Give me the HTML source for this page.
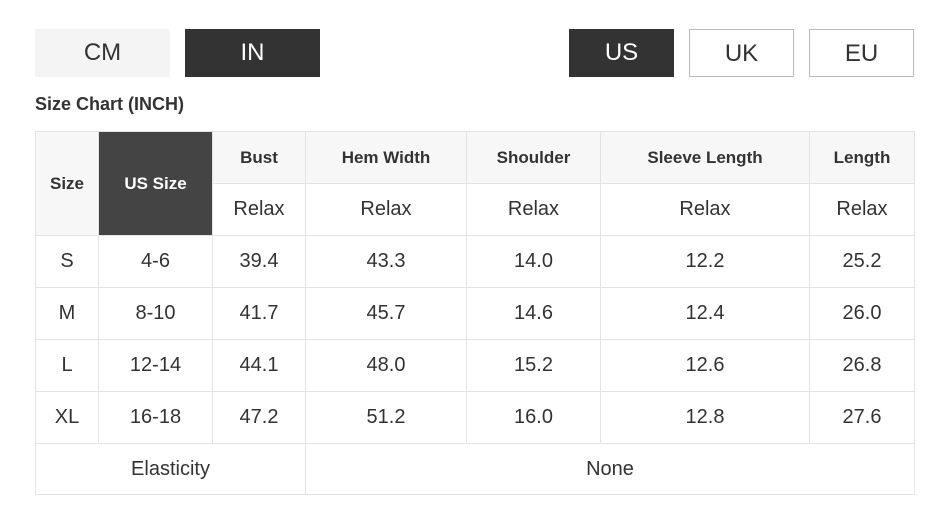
<!DOCTYPE html>
<html><head><style>
body{margin:0;background:#fff;font-family:"Liberation Sans",Arial,sans-serif;color:#333;width:945px;height:518px;position:relative;overflow:hidden}
.b{position:absolute;top:29px;height:48px;box-sizing:border-box;text-align:center;line-height:48px;font-size:24px}
.t{position:absolute;left:35px;top:94px;font-size:18px;font-weight:bold;color:#333}
table{position:absolute;left:35px;top:131px;border-collapse:collapse;table-layout:fixed}
td{border:1px solid #e3e3e3;text-align:center;font-size:20px;height:51px;padding:0;color:#333}
td.h{background:#f7f7f7;font-weight:bold;font-size:17px}
td.d{background:#444;color:#fff;font-weight:bold;font-size:17px}
</style></head><body>
<div class="b" style="left:35px;width:135px;background:#f4f4f4">CM</div>
<div class="b" style="left:185px;width:135px;background:#333;color:#fff">IN</div>
<div class="b" style="left:569px;width:105px;background:#333;color:#fff">US</div>
<div class="b" style="left:689px;width:105px;border:1px solid #bbb">UK</div>
<div class="b" style="left:809px;width:105px;border:1px solid #bbb">EU</div>
<div class="t">Size Chart (INCH)</div>
<table>
<colgroup><col style="width:63px"><col style="width:114px"><col style="width:93px"><col style="width:161px"><col style="width:134px"><col style="width:209px"><col style="width:105px"></colgroup>
<tr><td class="h" rowspan="2">Size</td><td class="d" rowspan="2">US Size</td><td class="h">Bust</td><td class="h">Hem Width</td><td class="h">Shoulder</td><td class="h">Sleeve Length</td><td class="h">Length</td></tr>
<tr><td>Relax</td><td>Relax</td><td>Relax</td><td>Relax</td><td>Relax</td></tr>
<tr><td>S</td><td>4-6</td><td>39.4</td><td>43.3</td><td>14.0</td><td>12.2</td><td>25.2</td></tr>
<tr><td>M</td><td>8-10</td><td>41.7</td><td>45.7</td><td>14.6</td><td>12.4</td><td>26.0</td></tr>
<tr><td>L</td><td>12-14</td><td>44.1</td><td>48.0</td><td>15.2</td><td>12.6</td><td>26.8</td></tr>
<tr><td>XL</td><td>16-18</td><td>47.2</td><td>51.2</td><td>16.0</td><td>12.8</td><td>27.6</td></tr>
<tr><td colspan="3" style="height:50px">Elasticity</td><td colspan="4" style="height:50px">None</td></tr>
</table>
</body></html>
